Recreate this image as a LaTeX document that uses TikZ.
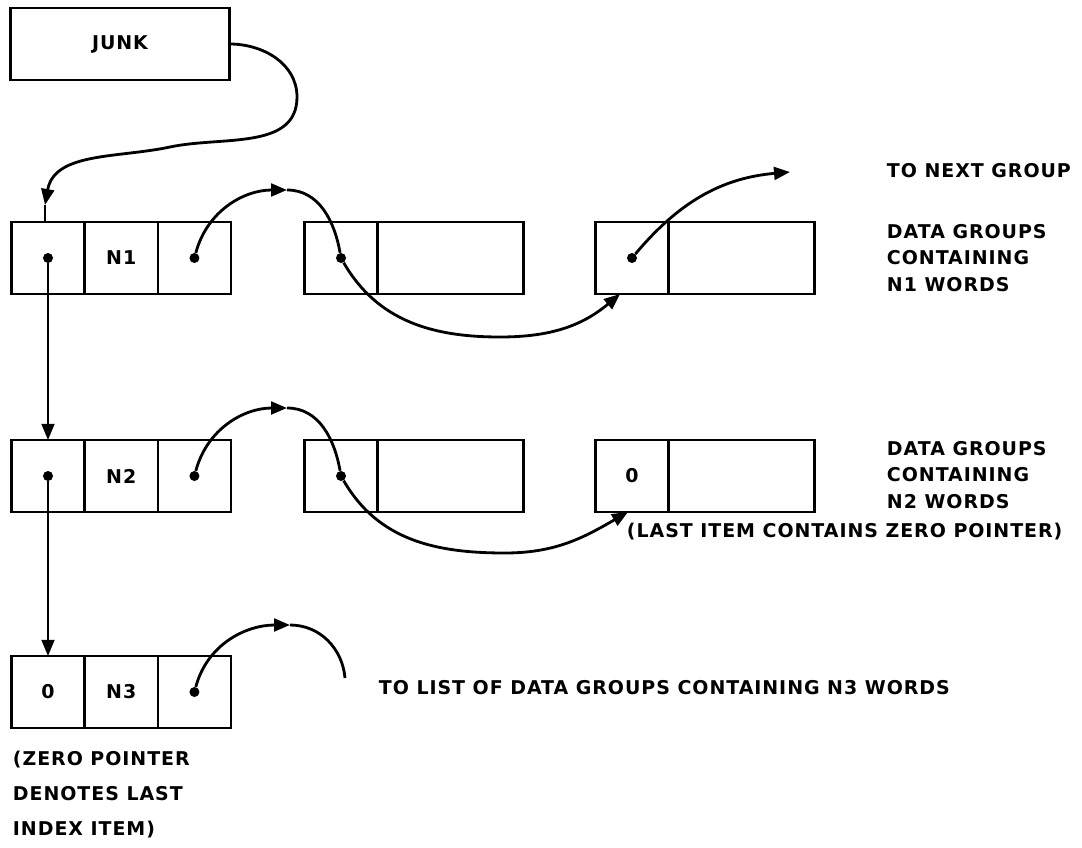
\documentclass[tikz,border=0pt]{standalone}
\usepackage{fontspec}
\usetikzlibrary{arrows.meta,positioning}
\newfontfamily\lblfont[LetterSpace=5]{DejaVu Sans}

\tikzset{
  lbl/.style={font=\lblfont\bfseries\fontsize{13.5}{19}\selectfont},
  cell/.style={draw, line width=1.8pt, outer sep=0pt, inner sep=0pt,
    minimum width=1.83cm, minimum height=1.8cm, lbl},
  widecell/.style={cell, minimum width=3.65cm},
  dot/.style={circle, fill, inner sep=0pt, minimum size=2.5mm},
  ptr/.style={line width=2pt},
  tip/.style={-{Triangle[length=4mm,width=3.2mm]}},
  down/.style={line width=1.2pt, tip},
}

\begin{document}
\begin{tikzpicture}[x=0.025cm, y=-0.025cm]
\useasboundingbox (0,0) rectangle (1082,847);

% index head
\node[cell, minimum width=5.475cm] (junk) at (120,44) {JUNK};

% index item N1 and its data groups
\node[cell] (h1a) at (48,258) {};
\node[cell, right=0pt of h1a] (h1b) {N1};
\node[cell, right=0pt of h1b] (h1c) {};
\node[cell] (g1a) at (341,258) {};
\node[widecell, right=0pt of g1a] (g1b) {};
\node[cell] (k1a) at (632,258) {};
\node[widecell, right=0pt of k1a] (k1b) {};

% index item N2 and its data groups
\node[cell] (h2a) at (48,476) {};
\node[cell, right=0pt of h2a] (h2b) {N2};
\node[cell, right=0pt of h2b] (h2c) {};
\node[cell] (g2a) at (341,476) {};
\node[widecell, right=0pt of g2a] (g2b) {};
\node[cell] (k2a) at (632,476) {0};
\node[widecell, right=0pt of k2a] (k2b) {};

% index item N3 (last)
\node[cell] (h3a) at (48,692) {0};
\node[cell, right=0pt of h3a] (h3b) {N3};
\node[cell, right=0pt of h3b] (h3c) {};

% pointer dots
\node[dot] (p1a) at (h1a) {};
\node[dot] (p1c) at (h1c) {};
\node[dot] (q1) at (g1a) {};
\node[dot] (s1) at (k1a) {};
\node[dot] (p2a) at (h2a) {};
\node[dot] (p2c) at (h2c) {};
\node[dot] (q2) at (g2a) {};
\node[dot] (p3c) at (h3c) {};

% bends and free ends
\coordinate (jbend) at (297,97);
\coordinate (jmid) at (170,147);
\coordinate (jt) at (45,205);
\coordinate (m1) at (287,190);
\coordinate (low1) at (500,337);
\coordinate (e1) at ([xshift=-0.3cm]k1a.south);
\coordinate (nxt) at (790,172);
\coordinate (m2) at (287,408);
\coordinate (low2) at (505,553);
\coordinate (e2) at ([xshift=-0.1cm]k2a.south);
\coordinate (m3) at (290,625);
\coordinate (t3) at (345,678);

% connectors
\draw[ptr, tip] (junk.east) to[out=0,in=90] (jbend) to[out=-90,in=12] (jmid) to[out=192,in=80] (jt);
\draw[ptr] (jt) -- (jt |- h1a.north);
\draw[down] (p1a) -- (p1a |- h2a.north);
\draw[down] (p2a) -- (p2a |- h3a.north);

\draw[ptr, tip] (p1c) to[out=75,in=180] (m1);
\draw[ptr] (m1) to[out=0,in=100] (q1);
\draw[ptr, tip] (q1) to[out=-60,in=180] (low1) to[out=0,in=-140] (e1);
\draw[ptr, tip] (s1) to[out=50,in=185] (nxt);

\draw[ptr, tip] (p2c) to[out=75,in=180] (m2);
\draw[ptr] (m2) to[out=0,in=100] (q2);
\draw[ptr, tip] (q2) to[out=-60,in=180] (low2) to[out=0,in=-150] (e2);

\draw[ptr, tip] (p3c) to[out=75,in=180] (m3);
\draw[ptr] (m3) to[out=0,in=95] (t3);

% labels
\node[lbl, anchor=west] (nxtlbl) at (882,171) {TO NEXT GROUP};
\node[lbl, anchor=north west, align=left] (grp1) at (882,219) {DATA GROUPS\\CONTAINING\\N1 WORDS};
\node[lbl, anchor=north west, align=left] (grp2) at (882,436) {DATA GROUPS\\CONTAINING\\N2 WORDS};
\node[lbl, anchor=west] (lastlbl) at (622,532) {(LAST ITEM CONTAINS ZERO POINTER)};
\node[lbl, anchor=west] (n3lbl) at (374,688) {TO LIST OF DATA GROUPS CONTAINING N3 WORDS};
\node[lbl, anchor=north west, align=left, font=\lblfont\bfseries\fontsize{13.5}{25}\selectfont] (zerolbl) at (8,746) {(ZERO POINTER\\DENOTES LAST\\INDEX ITEM)};
\end{tikzpicture}
\end{document}
